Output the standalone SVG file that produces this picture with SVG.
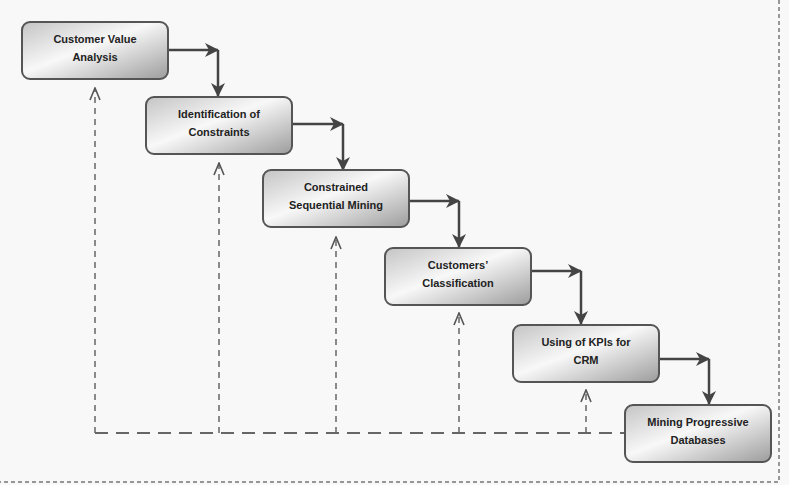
<svg xmlns="http://www.w3.org/2000/svg" width="789" height="485" viewBox="0 0 789 485">
<defs>
<linearGradient id="g" x1="0" y1="0" x2="1" y2="1">
<stop offset="0" stop-color="#c4c4c4"/>
<stop offset="0.45" stop-color="#f8f8f8"/>
<stop offset="1" stop-color="#9c9c9c"/>
</linearGradient>
<marker id="ah" viewBox="0 0 14 14" refX="13" refY="7" markerWidth="14" markerHeight="14" markerUnits="userSpaceOnUse" orient="auto">
<path d="M0,0 L14,7 L0,14 L4,7 Z" fill="#444"/>
</marker>
<marker id="oh" viewBox="0 0 12 14" refX="6" refY="1" markerWidth="12" markerHeight="14" markerUnits="userSpaceOnUse" orient="0">
<path d="M1,13 L6,1 L11,13" fill="none" stroke="#555" stroke-width="1.6"/>
</marker>
</defs>
<style>
.box{fill:url(#g);stroke:#555;stroke-width:2}
.t{font-family:"Liberation Sans",Arial,sans-serif;font-weight:bold;font-size:11px;fill:#222;text-anchor:middle}
.flow{fill:none;stroke:#444;stroke-width:2.5}
.fb{fill:none;stroke:#666;stroke-width:1.5;stroke-dasharray:6,5}
.base{fill:none;stroke:#666;stroke-width:2;stroke-dasharray:13,8}
.frame{fill:none;stroke:#777;stroke-width:1.5;stroke-dasharray:4,3}
</style>
<rect width="789" height="485" fill="#f8f8f8"/>
<path class="frame" d="M779,0 V482 H0"/>
<g id="connectors">
<path class="base" d="M95,433 H625"/>
<path class="fb" d="M95,433 V88" marker-end="url(#oh)"/>
<path class="fb" d="M219,433 V163" marker-end="url(#oh)"/>
<path class="fb" d="M336,433 V237" marker-end="url(#oh)"/>
<path class="fb" d="M459,433 V313" marker-end="url(#oh)"/>
<path class="fb" d="M586,433 V390" marker-end="url(#oh)"/>
<path class="flow" d="M168,50 H218" marker-end="url(#ah)"/>
<path class="flow" d="M218,50 V96" marker-end="url(#ah)"/>
<path class="flow" d="M292,124 H343" marker-end="url(#ah)"/>
<path class="flow" d="M343,124 V170" marker-end="url(#ah)"/>
<path class="flow" d="M409,201 H459" marker-end="url(#ah)"/>
<path class="flow" d="M459,201 V247" marker-end="url(#ah)"/>
<path class="flow" d="M531,271 H581" marker-end="url(#ah)"/>
<path class="flow" d="M581,271 V324" marker-end="url(#ah)"/>
<path class="flow" d="M659,359 H709" marker-end="url(#ah)"/>
<path class="flow" d="M709,359 V404" marker-end="url(#ah)"/>
</g>
<g id="n1"><rect class="box" x="22" y="22" width="146" height="57" rx="8"/><text class="t" x="95" y="43">Customer Value</text><text class="t" x="95" y="61">Analysis</text></g>
<g id="n2"><rect class="box" x="146" y="97" width="146" height="57" rx="8"/><text class="t" x="219" y="118">Identification of</text><text class="t" x="219" y="136">Constraints</text></g>
<g id="n3"><rect class="box" x="263" y="170" width="146" height="57" rx="8"/><text class="t" x="336" y="191">Constrained</text><text class="t" x="336" y="209">Sequential Mining</text></g>
<g id="n4"><rect class="box" x="385" y="248" width="146" height="57" rx="8"/><text class="t" x="458" y="269">Customers’</text><text class="t" x="458" y="287">Classification</text></g>
<g id="n5"><rect class="box" x="513" y="325" width="146" height="57" rx="8"/><text class="t" x="586" y="346">Using of KPIs for</text><text class="t" x="586" y="364">CRM</text></g>
<g id="n6"><rect class="box" x="625" y="405" width="146" height="57" rx="8"/><text class="t" x="698" y="426">Mining Progressive</text><text class="t" x="698" y="444">Databases</text></g>
</svg>
